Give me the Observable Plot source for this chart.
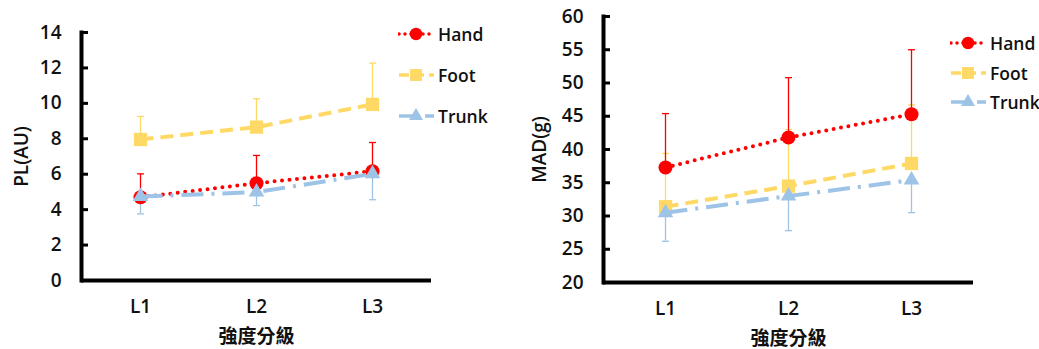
<!DOCTYPE html>
<html>
<head>
<meta charset="utf-8">
<script src="https://cdn.jsdelivr.net/npm/d3@7"></script>
<script src="https://cdn.jsdelivr.net/npm/@observablehq/plot@0.6"></script>
<style>
  html, body { margin: 0; padding: 0; background: #fff; }
  #root { position: relative; width: 1039px; height: 349px; overflow: hidden; font-family: "Open Sans", "Noto Sans CJK TC", sans-serif; }
  #root svg text { font-size: 19px !important; font-family: "Open Sans", "Noto Sans CJK TC", sans-serif !important; font-weight: 600; fill: #111; }
  .legend { position: absolute; font-size: 17.5px; color: #111; font-weight: 600; }
  .legend .item { position: absolute; left: 0; display: flex; align-items: center; white-space: nowrap; }
  .legend .item span { margin-left: 4px; }
</style>
</head>
<body>
<div id="root"></div>
<script>
// ---- data ----
const levels = ["L1", "L2", "L3"];
const seriesNames = ["Hand", "Foot", "Trunk"];
const xTitle = "強度分級";

// Left chart: PL(AU)
const plTicks = [0, 2, 4, 6, 8, 10, 12, 14];
const plHand = [4.70, 5.49, 6.17];
const plHandSD = [1.32, 1.57, 1.62];
const plFoot = [7.96, 8.66, 9.94];
const plFootSD = [1.30, 1.60, 2.33];
const plTrunk = [4.74, 4.99, 6.02];
const plTrunkSD = [0.98, 0.76, 1.46];

// Right chart: MAD(g)
const madTicks = [20, 25, 30, 35, 40, 45, 50, 55, 60];
const madHand = [37.3, 41.8, 45.3];
const madHandSD = [8.1, 9.0, 9.7];
const madFoot = [31.4, 34.5, 37.9];
const madFootSD = [8.0, 8.5, 8.8];
const madTrunk = [30.5, 33.0, 35.4];
const madTrunkSD = [4.3, 5.2, 4.9];

// ---- styles ----
const styles = {
  Hand:  {color: "#FF0000", dash: "0 7.5",      symbol: "circle",   r: 7,   dir: 1},
  Foot:  {color: "#FFD966", dash: "13 7",       symbol: "square",   r: 7.5, dir: 1},
  Trunk: {color: "#9DC3E6", dash: "22 8 3 8",   symbol: "triangle", r: 5.8, dir: -1}
};
const FONT = '"Open Sans", "Noto Sans CJK TC", sans-serif';
const FS = 19;

const capSymbol = {
  draw(context) { context.moveTo(-3.5, 0); context.lineTo(3.5, 0); }
};

function makeRows(name, means, sds) {
  const dir = styles[name].dir;
  return levels.map((level, i) => ({level, series: name, mean: means[i], end: means[i] + dir * sds[i]}));
}

function chart({width, height, ml, mr, mt, mb, domain, ticks, label, labelOffset, data}) {
  const frameW = width - ml - mr;
  const errOrder = ["Foot", "Trunk", "Hand"];
  const drawOrder = ["Hand", "Foot", "Trunk"];
  const marks = [];
  for (const s of errOrder) {
    const rows = data[s];
    marks.push(Plot.ruleX(rows, {x: "level", y1: "mean", y2: "end", stroke: styles[s].color, strokeWidth: 1.3}));
    marks.push(Plot.dot(rows, {x: "level", y: "end", symbol: capSymbol, stroke: styles[s].color, strokeWidth: 1.3, r: 3}));
  }
  for (const s of drawOrder) {
    const rows = data[s];
    const st = styles[s];
    marks.push(Plot.line(rows, {x: "level", y: "mean", stroke: st.color, strokeWidth: 4, strokeDasharray: st.dash, strokeLinecap: s === "Hand" ? "round" : "butt"}));
    marks.push(Plot.dot(rows, {x: "level", y: "mean", symbol: st.symbol, r: st.r, fill: st.color, stroke: "none"}));
  }
  return Plot.plot({
    width, height,
    marginLeft: ml, marginRight: mr, marginTop: mt, marginBottom: mb,
    style: {fontFamily: FONT, fontSize: FS + "px", color: "#000", background: "transparent", overflow: "visible"},
    x: {type: "point", domain: levels, padding: 0.5},
    y: {domain, ticks},
    marks: [
      ...marks,
      Plot.tickY(ticks, {y: d => d, stroke: "#000", strokeWidth: 3, insetRight: frameW - 7}),
      Plot.ruleY([domain[0]], {stroke: "#000", strokeWidth: 4}),
      Plot.frame({anchor: "left", stroke: "#000", strokeWidth: 4}),
      Plot.axisY({ticks, tickSize: 0, tickPadding: 20, fontSize: FS, label, labelAnchor: "center", labelArrow: "none", labelOffset}),
      Plot.axisX({tickSize: 0, tickPadding: 19, fontSize: FS, label: xTitle, labelAnchor: "center", labelArrow: "none", labelOffset: 62})
    ]
  });
}

const root = document.getElementById("root");

const left = chart({
  width: 520, height: 349, ml: 81, mr: 89, mt: 32, mb: 69,
  domain: [0, 14], ticks: plTicks, label: "PL(AU)", labelOffset: 67,
  data: {Hand: makeRows("Hand", plHand, plHandSD), Foot: makeRows("Foot", plFoot, plFootSD), Trunk: makeRows("Trunk", plTrunk, plTrunkSD)}
});
left.style.position = "absolute"; left.style.top = "0px"; left.style.left = "0px";
root.appendChild(left);

const right = chart({
  width: 519, height: 349, ml: 83, mr: 66, mt: 16, mb: 67,
  domain: [20, 60], ticks: madTicks, label: "MAD(g)", labelOffset: 71,
  data: {Hand: makeRows("Hand", madHand, madHandSD), Foot: makeRows("Foot", madFoot, madFootSD), Trunk: makeRows("Trunk", madTrunk, madTrunkSD)}
});
right.style.position = "absolute"; right.style.top = "0px"; right.style.left = "520px";
root.appendChild(right);

// ---- legends ----
function swatch(name) {
  const st = styles[name];
  const ns = "http://www.w3.org/2000/svg";
  const svg = document.createElementNS(ns, "svg");
  svg.setAttribute("width", 36); svg.setAttribute("height", 16);
  const line = document.createElementNS(ns, "line");
  line.setAttribute("x1", 1); line.setAttribute("x2", 36); line.setAttribute("y1", 8); line.setAttribute("y2", 8);
  line.setAttribute("stroke", st.color); line.setAttribute("stroke-width", 3.5);
  line.setAttribute("stroke-dasharray", name === "Hand" ? "0 6" : name === "Foot" ? "10 5" : "14 5 2 5");
  line.setAttribute("stroke-linecap", name === "Hand" ? "round" : "butt");
  svg.appendChild(line);
  const sym = {circle: d3.symbolCircle, square: d3.symbolSquare, triangle: d3.symbolTriangle}[st.symbol];
  const p = document.createElementNS(ns, "path");
  p.setAttribute("d", d3.symbol(sym, Math.PI * st.r * st.r * 0.8)());
  p.setAttribute("transform", "translate(18,8)");
  p.setAttribute("fill", st.color);
  svg.appendChild(p);
  return svg;
}
function legend(x, ys) {
  const div = document.createElement("div");
  div.className = "legend";
  div.style.left = x + "px"; div.style.top = "0px";
  seriesNames.forEach((name, i) => {
    const item = document.createElement("div");
    item.className = "item";
    item.style.top = (ys[i] - 12) + "px";
    item.appendChild(swatch(name));
    const t = document.createElement("span");
    t.textContent = name;
    item.appendChild(t);
    div.appendChild(item);
  });
  root.appendChild(div);
}
legend(398, [34, 75, 116]);
legend(950, [43, 73, 102]);
</script>
</body>
</html>
